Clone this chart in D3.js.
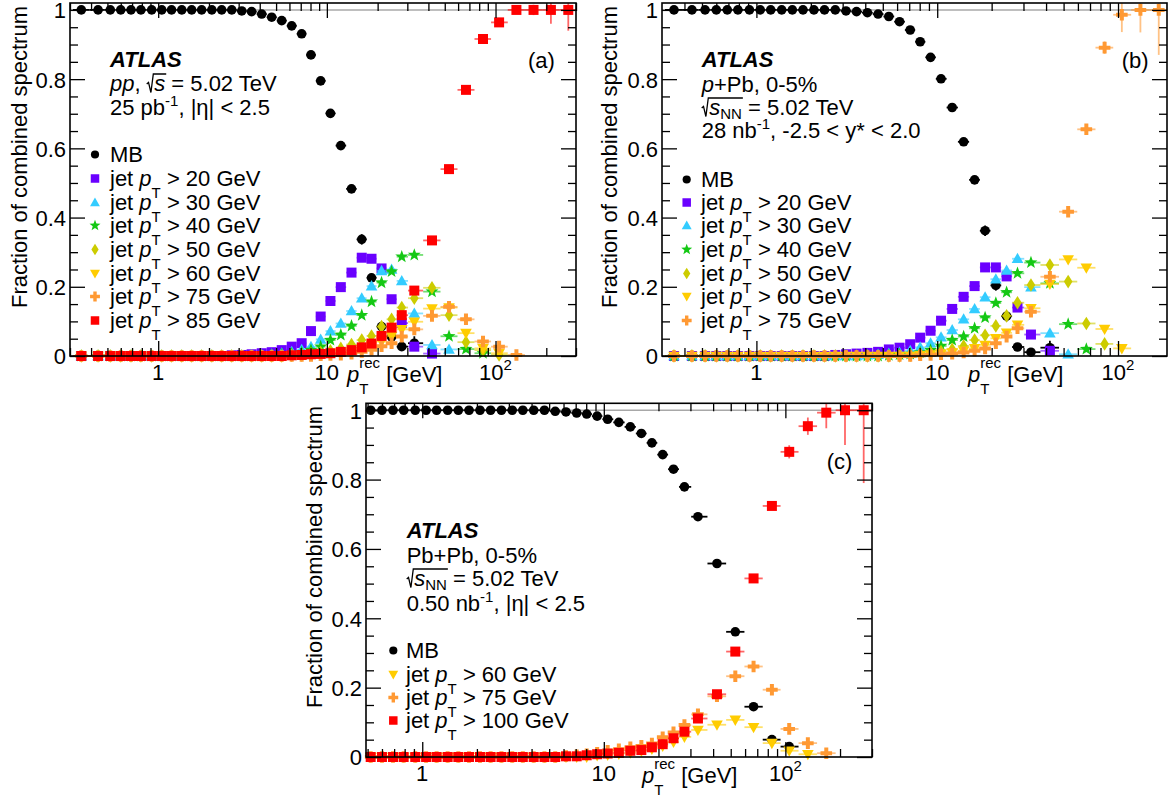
<!DOCTYPE html>
<html><head><meta charset="utf-8">
<script src="https://cdn.jsdelivr.net/npm/d3@7"></script>
<style>
body{margin:0;background:#fff;}
svg text{font-family:"Liberation Sans",Arial,Helvetica,sans-serif;white-space:pre;}
</style></head><body>
<svg id="chart" width="1175" height="800"></svg>
<script>
// ---------------- DATA ----------------
const ptBins = [0.35,0.44,0.52,0.60,0.69,0.79,0.915,1.05,1.20,1.38,1.58,1.81,2.08,2.38,2.73,3.13,3.58,4.11,4.71,5.40,6.19,7.09,8.05,9.19,10.5,12.1,14.0,16.1,18.4,21.1,24.2,27.8,33.0,42.0,53.0,66.8,84.3,105,133,168,213,270];

// panel (a) pp
const mbA   = [1,1,1,1,1,1,1,1,1,1,1,1,1,1,1,0.997,0.995,0.988,0.979,0.969,0.954,0.931,0.870,0.795,0.701,0.608,0.483,0.337,0.226,0.085,0.055,0.027,0.037,null,null,null,null,null,null,null,null,null];
const jet20A = [0,0,0,0,0,0,0,0,0,0,0,0,0,0,0.002,0.003,0.005,0.008,0.011,0.017,0.027,0.037,0.072,0.114,0.159,0.199,0.241,0.284,0.281,0.253,0.164,0.095,0.027,0.007,null,null,null,null,null,null,null,null];
const jet30A = [0,0,0,0,0,0,0,0,0,0,0,0,0,0,0,0,0.002,0.003,0.005,0.008,0.012,0.018,0.027,0.048,0.072,0.094,0.130,0.167,0.202,0.246,0.250,0.217,0.123,0.032,0.019,null,null,null,null,null,null,null];
const jet40A = [0,0,0,0,0,0,0,0,0,0,0,0,0,0,0,0,0,0,0.002,0.004,0.006,0.010,0.017,0.027,0.046,0.061,0.087,0.118,0.157,0.212,0.244,0.287,0.292,0.186,0.057,0.020,0.008,null,null,null,null,null];
const jet50A = [0,0,0,0,0,0,0,0,0,0,0,0,0,0,0,0,0,0,0,0,0.002,0.004,0.006,0.010,0.015,0.022,0.033,0.046,0.058,0.085,0.106,0.140,0.167,0.197,0.118,0.040,0.017,0.003,null,null,null,null];
const jet60A = [0,0,0,0,0,0,0,0,0,0,0,0,0,0,0,0,0,0,0,0,0,0,0.002,0.004,0.006,0.009,0.013,0.020,0.030,0.042,0.058,0.077,0.099,0.137,0.140,0.066,0.022,0.008,null,null,null,null];
const jet75A = [0,0,0,0,0,0,0,0,0,0,0,0,0,0,0,0,0,0,0,0,0,0,0,0.002,0.003,0.004,0.007,0.012,0.018,0.028,0.037,0.056,0.077,0.116,0.142,0.106,0.042,0.027,0.003,null,null,null];
const jet85A = [0,0,0,0,0,0,0,0,0,0,0,0,0,0,0,0,0,0,0,0,0.002,0.003,0.005,0.006,0.008,0.012,0.017,0.025,0.036,0.058,0.082,0.118,0.189,0.334,0.540,0.769,0.916,0.964,1.0,1.0,1.0,1.0];
const mbAErr = [[25,0.010],[26,0.012],[27,0.015],[28,0.012],[29,0.008],[31,0.006],[32,0.020]];
const jet85AErr = [[34,0.006],[35,0.006],[36,0.008],[37,0.010],[38,0.012],[39,0.015],[40,0.040],[41,0.060]];

// panel (b) p+Pb
const mbB   = [1,1,1,1,1,1,1,1,1,1,1,1,1,1,1,0.997,0.995,0.992,0.988,0.981,0.966,0.942,0.908,0.863,0.801,0.718,0.619,0.509,0.362,0.204,0.115,0.026,0.011,0.024,null,null,null,null,null,null,null,null];
const jet20B = [0,0,0,0,0,0,0,0,0,0,0,0,0,0,0.003,0.005,0.007,0.009,0.012,0.019,0.024,0.034,0.053,0.073,0.102,0.136,0.171,0.202,0.256,0.256,0.230,0.140,0.062,0.015,null,null,null,null,null,null,null,null];
const jet30B = [0,0,0,0,0,0,0,0,0,0,0,0,0,0,0,0,0,0.002,0.004,0.007,0.010,0.015,0.025,0.037,0.054,0.075,0.106,0.136,0.170,0.222,0.247,0.281,0.199,0.066,0.005,null,null,null,null,null,null,null];
const jet40B = [0,0,0,0,0,0,0,0,0,0,0,0,0,0,0,0,0,0,0,0.002,0.004,0.006,0.010,0.017,0.029,0.046,0.056,0.080,0.111,0.153,0.184,0.239,0.270,0.210,0.092,0.020,null,null,null,null,null,null];
const jet50B = [0,0,0,0,0,0,0,0,0,0,0,0,0,0,0,0,0,0,0,0,0,0.003,0.005,0.009,0.013,0.019,0.029,0.046,0.060,0.087,0.116,0.154,0.205,0.263,0.215,0.094,0.035,null,null,null,null,null];
const jet60B = [0,0,0,0,0,0,0,0,0,0,0,0,0,0,0,0,0,0,0,0,0,0,0.002,0.004,0.007,0.010,0.015,0.022,0.032,0.051,0.067,0.090,0.138,0.208,0.279,0.255,0.078,0.022,null,null,null,null];
const jet75B = [0,0,0,0,0,0,0,0,0,0,0,0,0,0,0,0,0,0,0,0,0,0,0.002,0.003,0.005,0.007,0.010,0.015,0.022,0.037,0.056,0.080,0.128,0.229,0.417,0.655,0.891,0.986,1.0,1.0,null,null];
const mbBErr = [[26,0.006],[27,0.010],[28,0.015],[29,0.015],[30,0.015],[33,0.020]];
const jet75BErr = [[34,0.008],[35,0.010],[36,0.018],[37,0.050],[38,0.065],[39,0.130]];

// panel (c) Pb+Pb
const mbC    = [null,null,1,1,1,1,1,1,1,1,1,1,1,1,1,1,1,1,1,0.997,0.995,0.992,0.989,0.983,0.974,0.965,0.952,0.933,0.906,0.872,0.830,0.779,0.693,0.558,0.361,0.145,0.050,0.030,null,null,null,null];
const jet60C = [null,null,0,0,0,0,0,0,0,0,0,0,0,0,0,0,0,0,0,0,0,0,0,0.004,0.006,0.009,0.012,0.017,0.023,0.032,0.043,0.058,0.078,0.093,0.107,0.086,0.040,0.018,0.008,null,null,null];
const jet75C = [null,null,0,0,0,0,0,0,0,0,0,0,0,0,0,0,0,0,0,0,0.003,0.005,0.008,0.012,0.018,0.022,0.028,0.032,0.039,0.057,0.071,0.092,0.123,0.175,0.233,0.261,0.194,0.081,0.040,0.011,null,null];
const jet100C = [null,null,0,0,0,0,0,0,0,0,0,0,0,0,0,0,0,0,0,0,0.002,0.002,0.005,0.008,0.010,0.012,0.018,0.020,0.028,0.037,0.054,0.073,0.111,0.181,0.304,0.515,0.724,0.880,0.954,0.993,1.0,1.0];
const mbCErr = [[33,0.005],[34,0.006],[35,0.006]];
const jet100CErr = [[36,0.008],[37,0.019],[38,0.025],[39,0.045],[40,0.100],[41,0.210]];

const thresholdsA = [20,30,40,50,60,75,85];
const thresholdsB = [20,30,40,50,60,75];
const thresholdsC = [60,75,100];
const yTickValues = [0,0.2,0.4,0.6,0.8,1];
const yTickLabels = ['0','0.2','0.4','0.6','0.8','1'];
const xMajorValues = [1,10,100];
const xMajorLabels = [[{t:'1'}],[{t:'10'}],[{t:'10'},{t:'2',sup:1,dy:-10}]];
const yTitle = 'Fraction of combined spectrum';

// ---------------- STYLE ----------------
const C = {mb:'#000000', j20:'#6a00ff', j30:'#33ccff', j40:'#14c814', j50:'#cccc00', j60:'#ffcc00', j75:'#ff9933', j85:'#ff0000'};
const FS = 22, SFS = 15;
const svg = d3.select('#chart');

function shapePath(type, k) {
  k = k || 1;
  const f = v => (v * k).toFixed(2);
  switch (type) {
    case 'circle': { const r = 4.8 * k; return `M${-r},0A${r},${r} 0 1,0 ${r},0A${r},${r} 0 1,0 ${-r},0Z`; }
    case 'square': return `M${f(-5)},${f(-5)}H${f(5)}V${f(5)}H${f(-5)}Z`;
    case 'tri': return `M0,${f(-6)}L${f(5.8)},${f(4.3)}L${f(-5.8)},${f(4.3)}Z`;
    case 'tridown': return `M0,${f(6)}L${f(5.8)},${f(-4.3)}L${f(-5.8)},${f(-4.3)}Z`;
    case 'diamond': return `M0,${f(-6.8)}L${f(4.3)},0L0,${f(6.8)}L${f(-4.3)},0Z`;
    case 'star': {
      let p = '';
      for (let i = 0; i < 10; i++) {
        const a = -Math.PI / 2 + i * Math.PI / 5, rr = (i % 2 ? 2.8 : 6.8) * k;
        p += (i ? 'L' : 'M') + (rr * Math.cos(a)).toFixed(2) + ',' + (rr * Math.sin(a)).toFixed(2);
      }
      return p + 'Z';
    }
    case 'cross': {
      const a = 5.8 * k, w = 2.0 * k;
      return `M${-w},${-a}H${w}V${-w}H${a}V${w}H${w}V${a}H${-w}V${w}H${-a}V${-w}H${-w}Z`;
    }
  }
}

function richText(parent, x, y, segs, opts) {
  opts = opts || {};
  const size = opts.size || FS;
  const g = parent.append('g').attr('transform', `translate(${x},${y})`);
  let cx = 0, stackX = 0, radStart = null, overEnd = null;
  segs.forEach(s => {
    if (s.rad) { radStart = cx; cx += 7.5; return; }
    const small = s.sub || s.sup;
    const sx = s.stack ? stackX : cx;
    const t = g.append('text').attr('x', sx).attr('y', s.dy || 0)
      .attr('font-size', small ? SFS : size)
      .attr('font-style', s.i ? 'italic' : 'normal')
      .attr('font-weight', s.b ? 'bold' : 'normal')
      .attr('fill', '#000').text(s.t);
    const w = t.node().getComputedTextLength();
    if (!s.stack) stackX = sx;
    cx = Math.max(cx, sx + w);
    if (s.over) overEnd = sx + w;
  });
  if (radStart !== null) {
    const r = radStart;
    g.append('path').attr('d', `M${r},-7 L${r + 1.8},-8.6 L${r + 4.2},1.5 L${r + 6.6},-17 H${overEnd + 1}`)
      .attr('fill', 'none').attr('stroke', '#000').attr('stroke-width', 1.3);
  }
  if (opts.anchor === 'middle') g.attr('transform', `translate(${x - cx / 2},${y})`);
  return cx;
}

const jetLabel = thr => [{t:'jet '},{t:'p',i:1},{t:'T',sub:1,dy:12},{t:' > ' + thr + ' GeV'}];
const xTitle = [{t:'p',i:1},{t:'T',sub:1,dy:12},{t:'rec',sup:1,dy:-14,stack:1},{t:' [GeV]'}];

// bin edges (geometric mid-points of the bin centres)
const edges = ptBins.map((c, i) => {
  const lo = i > 0 ? Math.sqrt(ptBins[i - 1] * c) : c * c / Math.sqrt(c * ptBins[1]);
  const hi = i < ptBins.length - 1 ? Math.sqrt(c * ptBins[i + 1]) : c * c / Math.sqrt(ptBins[i - 1] * c);
  return [lo, hi];
});

const panels = [
  { x0:70, x1:576, y0:3, y1:356, xmin:0.3, xmax:300,
    label:{x:528, y:68, t:'(a)'}, yTitleX:27, yTitleEnd:6, xTitleX:347, xTitleY:382,
    info:{x:110, lines:[
      {y:67, segs:[{t:'ATLAS',b:1,i:1}]},
      {y:91, segs:[{t:'pp',i:1},{t:', '},{rad:1},{t:'s',i:1,over:1},{t:' = 5.02 TeV'}]},
      {y:115, segs:[{t:'25 pb'},{t:'-1',sup:1,dy:-9},{t:', |η| < 2.5'}]} ]},
    legend:{mx:95, tx:110, ys:[162,186,210,233,257,281,304,328]},
    series:[
      {vals:mbA, err:mbAErr, color:C.mb, shape:'circle', label:[{t:'MB'}]},
      {vals:jet20A, err:[], color:C.j20, shape:'square', label:jetLabel(thresholdsA[0])},
      {vals:jet30A, err:[], color:C.j30, shape:'tri', label:jetLabel(thresholdsA[1])},
      {vals:jet40A, err:[], color:C.j40, shape:'star', label:jetLabel(thresholdsA[2])},
      {vals:jet50A, err:[], color:C.j50, shape:'diamond', label:jetLabel(thresholdsA[3])},
      {vals:jet60A, err:[], color:C.j60, shape:'tridown', label:jetLabel(thresholdsA[4])},
      {vals:jet75A, err:[], color:C.j75, shape:'cross', label:jetLabel(thresholdsA[5])},
      {vals:jet85A, err:jet85AErr, color:C.j85, shape:'square', label:jetLabel(thresholdsA[6])} ] },
  { x0:662, x1:1167, y0:3, y1:356, xmin:0.3005, xmax:186.6,
    label:{x:1121.7, y:68, t:'(b)'}, yTitleX:617, yTitleEnd:6, xTitleX:968, xTitleY:382,
    info:{x:701.7, lines:[
      {y:67, segs:[{t:'ATLAS',b:1,i:1}]},
      {y:92, segs:[{t:'p',i:1},{t:'+Pb, 0-5%'}]},
      {y:115, segs:[{rad:1},{t:'s',i:1,over:1},{t:'NN',sub:1,dy:4,over:1},{t:' = 5.02 TeV'}]},
      {y:138, segs:[{t:'28 nb'},{t:'-1',sup:1,dy:-9},{t:', -2.5 < y* < 2.0'}]} ]},
    legend:{mx:686.7, tx:701, ys:[187,210,233,257,281,304,328]},
    series:[
      {vals:mbB, err:mbBErr, color:C.mb, shape:'circle', label:[{t:'MB'}]},
      {vals:jet20B, err:[], color:C.j20, shape:'square', label:jetLabel(thresholdsB[0])},
      {vals:jet30B, err:[], color:C.j30, shape:'tri', label:jetLabel(thresholdsB[1])},
      {vals:jet40B, err:[], color:C.j40, shape:'star', label:jetLabel(thresholdsB[2])},
      {vals:jet50B, err:[], color:C.j50, shape:'diamond', label:jetLabel(thresholdsB[3])},
      {vals:jet60B, err:[], color:C.j60, shape:'tridown', label:jetLabel(thresholdsB[4])},
      {vals:jet75B, err:jet75BErr, color:C.j75, shape:'cross', label:jetLabel(thresholdsB[5])} ] },
  { x0:366, x1:872, y0:403.3, y1:757, xmin:0.49, xmax:300,
    label:{x:826.7, y:469, t:'(c)'}, yTitleX:322, yTitleEnd:406, xTitleX:642, xTitleY:783,
    info:{x:406.7, lines:[
      {y:538, segs:[{t:'ATLAS',b:1,i:1}]},
      {y:563, segs:[{t:'Pb+Pb, 0-5%'}]},
      {y:586, segs:[{rad:1},{t:'s',i:1,over:1},{t:'NN',sub:1,dy:4,over:1},{t:' = 5.02 TeV'}]},
      {y:611, segs:[{t:'0.50 nb'},{t:'-1',sup:1,dy:-9},{t:', |η| < 2.5'}]} ]},
    legend:{mx:393.3, tx:406, ys:[658,682,705,728]},
    series:[
      {vals:mbC, err:mbCErr, color:C.mb, shape:'circle', label:[{t:'MB'}]},
      {vals:jet60C, err:[], color:C.j60, shape:'tridown', label:jetLabel(thresholdsC[0])},
      {vals:jet75C, err:[], color:C.j75, shape:'cross', label:jetLabel(thresholdsC[1])},
      {vals:jet100C, err:jet100CErr, color:C.j85, shape:'square', label:jetLabel(thresholdsC[2])} ] }
];

panels.forEach(P => {
  const x = d3.scaleLog().domain([P.xmin, P.xmax]).range([P.x0, P.x1]);
  const y = d3.scaleLinear().domain([0, 1.02]).range([P.y1, P.y0]);
  const g = svg.append('g');

  // reference line at 1
  g.append('line').attr('x1', P.x0).attr('x2', P.x1).attr('y1', y(1)).attr('y2', y(1))
    .attr('stroke', '#a8a8a8').attr('stroke-width', 1.5);

  // data
  P.series.forEach(s => {
    const errMap = new Map(s.err);
    const pts = ptBins.map((c, i) => ({c, i, v: s.vals[i], e: errMap.get(i) || 0}))
      .filter(d => d.v !== null && d.c >= P.xmin && d.c <= P.xmax);
    const sg = g.append('g');
    const op = s.color === '#000000' ? 1 : 0.6;
    sg.selectAll('line.h').data(pts).join('line')
      .attr('x1', d => x(Math.max(edges[d.i][0], P.xmin))).attr('x2', d => x(Math.min(edges[d.i][1], P.xmax)))
      .attr('y1', d => y(d.v)).attr('y2', d => y(d.v))
      .attr('stroke', s.color).attr('stroke-opacity', op).attr('stroke-width', 1.8);
    sg.selectAll('line.v').data(pts.filter(d => d.e > 0)).join('line')
      .attr('x1', d => x(d.c)).attr('x2', d => x(d.c))
      .attr('y1', d => y(Math.max(0, d.v - d.e))).attr('y2', d => y(Math.min(1.02, d.v + d.e)))
      .attr('stroke', s.color).attr('stroke-opacity', op).attr('stroke-width', 1.8);
    sg.selectAll('path').data(pts).join('path')
      .attr('d', shapePath(s.shape, 1))
      .attr('transform', d => `translate(${x(d.c)},${y(d.v)})`)
      .attr('fill', s.color);
  });

  // frame
  g.append('rect').attr('x', P.x0).attr('y', P.y0).attr('width', P.x1 - P.x0).attr('height', P.y1 - P.y0)
    .attr('fill', 'none').attr('stroke', '#000').attr('stroke-width', 1.6);

  // x ticks (inward, bottom & top)
  const allX = x.ticks();
  const isMajor = v => Math.abs(Math.log10(v) - Math.round(Math.log10(v))) < 1e-9;
  const minorX = allX.filter(v => !isMajor(v));
  const majorX = allX.filter(isMajor);
  const axStyle = sel => { sel.select('.domain').remove(); sel.selectAll('line').attr('stroke', '#000').attr('stroke-width', 1.3); };
  g.append('g').attr('transform', `translate(0,${P.y1})`).call(d3.axisBottom(x).tickValues(minorX).tickSize(-8).tickFormat('')).call(axStyle);
  g.append('g').attr('transform', `translate(0,${P.y1})`).call(d3.axisBottom(x).tickValues(majorX).tickSize(-15).tickFormat('')).call(axStyle);
  g.append('g').attr('transform', `translate(0,${P.y0})`).call(d3.axisTop(x).tickValues(minorX).tickSize(-8).tickFormat('')).call(axStyle);
  g.append('g').attr('transform', `translate(0,${P.y0})`).call(d3.axisTop(x).tickValues(majorX).tickSize(-15).tickFormat('')).call(axStyle);

  // y ticks (inward, left & right)
  const minorY = d3.range(0, 21).map(k => k * 0.05).filter(v => Math.abs(v * 5 - Math.round(v * 5)) > 1e-6);
  g.append('g').attr('transform', `translate(${P.x0},0)`).call(d3.axisLeft(y).tickValues(minorY).tickSize(-8).tickFormat('')).call(axStyle);
  g.append('g').attr('transform', `translate(${P.x0},0)`).call(d3.axisLeft(y).tickValues(yTickValues).tickSize(-15).tickFormat('')).call(axStyle);
  g.append('g').attr('transform', `translate(${P.x1},0)`).call(d3.axisRight(y).tickValues(minorY).tickSize(-8).tickFormat('')).call(axStyle);
  g.append('g').attr('transform', `translate(${P.x1},0)`).call(d3.axisRight(y).tickValues(yTickValues).tickSize(-15).tickFormat('')).call(axStyle);

  // y tick labels
  const yl = g.append('g').attr('transform', `translate(${P.x0},0)`)
    .call(d3.axisLeft(y).tickValues(yTickValues).tickSize(0).tickPadding(4).tickFormat((d, i) => yTickLabels[i]));
  yl.select('.domain').remove();
  yl.attr('font-family', null).attr('font-size', null);
  yl.selectAll('text').attr('font-size', FS).attr('fill', '#000').attr('dy', '0.36em');

  // x tick labels
  xMajorValues.forEach((v, i) => {
    if (v >= P.xmin && v <= P.xmax) richText(g, x(v), P.y1 + 24, xMajorLabels[i], {anchor: 'middle'});
  });

  // axis titles
  g.append('text').attr('transform', `translate(${P.yTitleX},${P.yTitleEnd}) rotate(-90)`)
    .attr('text-anchor', 'end').attr('font-size', FS).attr('fill', '#000').text(yTitle);
  richText(g, P.xTitleX, P.xTitleY, xTitle);

  // panel label
  g.append('text').attr('x', P.label.x).attr('y', P.label.y).attr('font-size', FS).attr('fill', '#000').text(P.label.t);

  // info text
  P.info.lines.forEach(l => richText(g, P.info.x, l.y, l.segs));

  // legend
  P.series.forEach((s, i) => {
    const by = P.legend.ys[i];
    g.append('path').attr('d', shapePath(s.shape, 0.85))
      .attr('transform', `translate(${P.legend.mx},${by - 7.5})`).attr('fill', s.color);
    richText(g, P.legend.tx, by, s.label);
  });
});
</script>
</body></html>
